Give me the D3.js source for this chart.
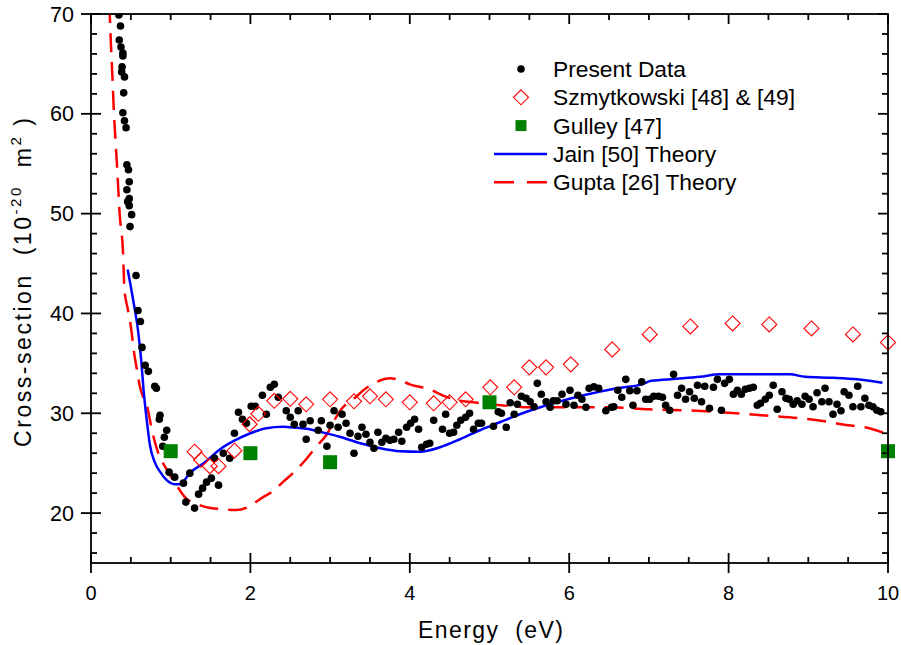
<!DOCTYPE html>
<html>
<head>
<meta charset="utf-8">
<script src="https://cdn.jsdelivr.net/npm/d3@7"></script>
<style>
  body { margin: 0; background: #fff; }
  svg { display: block; font-family: Arial, "Liberation Sans", sans-serif; }
</style>
</head>
<body>
<svg id="chart" width="901" height="645"></svg>
<script>
// [energy eV, cross-section 1e-20 m^2]
const presentData = [
  [0.35,69.9],[0.37,68.8],[0.355,67.4],[0.376,66.7],[0.40,66.1],[0.40,65.8],[0.39,64.7],[0.385,64.2],
  [0.42,63.7],[0.41,62.1],[0.40,60.1],[0.42,59.3],[0.44,58.6],[0.45,54.9],[0.47,54.4],[0.48,53.2],
  [0.45,52.4],[0.48,51.5],[0.46,51.2],[0.48,50.8],[0.51,49.9],[0.49,48.7],[0.565,43.8],[0.59,40.3],
  [0.62,39.2],[0.64,36.6],[0.68,34.8],[0.72,34.2],[0.80,32.7],[0.82,32.5],[0.866,29.8],[0.857,29.4],
  [0.95,28.3],[0.92,27.6],[0.90,26.7],[0.98,24.1],[1.05,23.6],[1.16,23.0],[1.24,24.0],[1.19,21.1],
  [1.30,20.5],[1.35,21.9],[1.40,22.5],[1.45,23.1],[1.51,23.5],[1.60,22.8],[1.55,25.5],[1.66,26.0],
  [1.74,25.5],[1.80,28.0],[1.85,30.1],[1.90,29.4],[1.95,29.0],[2.01,30.7],[2.06,30.7],[2.15,31.8],
  [2.20,29.9],[2.25,32.6],[2.30,32.9],[2.35,31.6],[2.45,30.25],[2.50,29.6],[2.55,28.9],[2.60,30.25],
  [2.66,28.9],[2.70,27.4],[2.75,29.25],[2.85,28.3],[2.89,29.25],[2.96,26.7],[3.00,28.8],[3.05,30.25],
  [3.10,28.6],[3.15,29.9],[3.20,29.0],[3.25,28.0],[3.30,26.0],[3.35,27.7],[3.40,28.6],[3.45,27.9],
  [3.50,27.1],[3.55,26.5],[3.60,28.1],[3.65,27.1],[3.70,27.5],[3.75,27.3],[3.80,27.4],[3.86,28.1],
  [3.90,27.2],[3.96,28.6],[4.01,29.0],[4.06,29.4],[4.11,28.4],[4.15,26.6],[4.21,26.9],[4.25,27.0],
  [4.30,29.3],[4.41,28.4],[4.45,29.9],[4.50,28.0],[4.55,28.1],[4.59,28.8],[4.64,29.3],[4.70,29.6],
  [4.75,30.0],[4.80,28.4],[4.86,29.0],[4.90,29.0],[5.05,28.7],[5.11,30.15],[5.15,30.0],[5.21,28.6],
  [5.26,31.05],[5.31,29.9],[5.35,30.9],[5.40,31.7],[5.46,31.5],[5.51,31.15],[5.56,30.65],[5.60,33.0],
  [5.65,31.9],[5.71,31.15],[5.76,30.6],[5.80,31.25],[5.85,31.25],[5.91,31.9],[5.96,30.9],[6.01,32.3],
  [6.06,30.8],[6.11,31.8],[6.16,31.4],[6.21,30.6],[6.25,32.5],[6.31,32.65],[6.37,32.5],[6.46,30.25],
  [6.53,30.6],[6.56,30.65],[6.61,32.3],[6.66,31.6],[6.71,33.4],[6.76,32.25],[6.80,30.8],[6.85,32.25],
  [6.91,33.15],[6.96,31.4],[7.01,31.4],[7.06,31.7],[7.12,31.7],[7.17,31.6],[7.21,30.8],[7.26,30.3],
  [7.31,33.9],[7.36,31.8],[7.41,32.5],[7.46,31.4],[7.51,32.15],[7.57,31.5],[7.61,32.8],[7.66,31.15],
  [7.70,32.7],[7.76,30.5],[7.81,32.6],[7.86,33.4],[7.91,30.3],[7.95,33.0],[8.01,33.4],[8.06,31.9],
  [8.11,32.3],[8.16,31.9],[8.21,32.4],[8.26,32.5],[8.31,32.6],[8.36,30.8],[8.40,31.0],[8.46,31.4],
  [8.51,31.8],[8.56,32.8],[8.61,30.4],[8.67,32.15],[8.72,31.5],[8.76,31.4],[8.81,30.9],[8.86,31.25],
  [8.92,30.9],[8.96,31.7],[9.01,31.4],[9.06,30.65],[9.11,32.05],[9.17,31.15],[9.21,32.5],[9.26,31.15],
  [9.31,29.9],[9.36,30.9],[9.41,30.25],[9.45,32.15],[9.51,31.8],[9.56,30.65],[9.62,32.7],[9.66,30.65],
  [9.71,31.5],[9.76,30.8],[9.81,30.65],[9.86,30.3],[9.91,30.15]
];

const szmytkowski = [
  [1.30,26.15],[1.38,25.35],[1.49,24.7],[1.60,24.7],[1.80,26.25],[1.99,28.9],[2.10,29.95],[2.30,31.25],
  [2.50,31.45],[2.70,30.9],[3.00,31.4],[3.30,31.2],[3.50,31.7],[3.70,31.4],[4.00,31.1],[4.30,31.0],
  [4.50,31.1],[4.70,31.4],[5.01,32.6],[5.31,32.6],[5.50,34.6],[5.71,34.6],[6.02,34.9],[6.54,36.4],
  [7.01,37.9],[7.52,38.7],[8.05,39.0],[8.51,38.9],[9.04,38.5],[9.56,37.9],[10.0,37.1]
];

const gulley = [[1.0,26.2],[2.0,26.0],[3.0,25.1],[5.0,31.1],[10.0,26.2]];

const jainTheory = [
  [0.46,44.4],[0.53,41.3],[0.59,38.3],[0.63,35.3],[0.66,32.3],[0.70,29.3],[0.74,26.8],[0.80,25.1],
  [0.87,24.1],[0.95,23.3],[1.05,22.9],[1.10,22.9],[1.15,23.1],[1.24,24.0],[1.43,25.1],[1.62,26.4],
  [1.81,27.3],[2.0,28.0],[2.2,28.5],[2.41,28.65],[2.58,28.55],[2.71,28.45],[2.87,28.15],[3.12,27.65],
  [3.38,27.0],[3.63,26.5],[3.88,26.2],[4.13,26.15],[4.38,26.6],[4.63,27.4],[4.88,28.3],[5.13,29.1],
  [5.38,29.9],[5.76,30.9],[6.18,31.8],[6.60,32.5],[6.91,32.9],[7.03,33.25],[7.35,33.45],[7.64,33.65],
  [7.89,33.9],[8.35,33.9],[8.77,33.9],[8.96,33.65],[9.31,33.55],[9.61,33.4],[9.93,33.05]
];

const guptaTheory = [
  [0.23,71],[0.25,67],[0.27,63.5],[0.29,59.7],[0.31,57],[0.33,54.3],[0.36,49.9],[0.40,46.4],
  [0.42,42.4],[0.46,40.5],[0.50,38.7],[0.54,36.1],[0.58,34.2],[0.61,32.8],[0.66,31.5],[0.70,30.8],
  [0.77,28.1],[0.84,26.1],[0.94,24.5],[1.08,22.7],[1.19,21.5],[1.33,20.9],[1.50,20.5],[1.64,20.4],
  [1.82,20.3],[1.97,20.6],[2.14,21.5],[2.30,22.3],[2.42,23.2],[2.56,24.2],[2.71,25.5],[2.83,26.7],
  [2.96,27.9],[3.06,29.4],[3.15,30.5],[3.29,31.4],[3.45,32.5],[3.60,33.2],[3.75,33.5],[3.88,33.3],
  [4.0,32.9],[4.25,32.4],[4.41,31.8],[4.6,31.3],[4.8,31.1],[5.0,30.9],[5.3,30.7],[5.5,30.6],
  [6.0,30.6],[6.5,30.6],[7.0,30.4],[7.6,30.25],[8.0,30.05],[8.5,29.75],[8.9,29.5],[9.2,29.2],
  [9.5,28.8],[9.7,28.6],[10,27.9]
];

const xTicks = [0, 2, 4, 6, 8, 10];
const yTicks = [20, 30, 40, 50, 60, 70];
const legendLabels = ["Present Data", "Szmytkowski [48] & [49]", "Gulley [47]", "Jain [50] Theory", "Gupta [26] Theory"];

const svg = d3.select('#chart');
const margin = {left: 91, right: 13, top: 14, bottom: 82};
const W = 901, H = 645;

const x = d3.scaleLinear().domain([0, 10]).range([margin.left, W - margin.right]);
const y = d3.scaleLinear().domain([15, 70]).range([H - margin.bottom, margin.top]);

svg.append('defs').append('clipPath').attr('id', 'plotClip')
    .append('rect')
    .attr('x', x(0)).attr('y', y(70))
    .attr('width', x(10) - x(0)).attr('height', y(15) - y(70));

const plot = svg.append('g').attr('clip-path', 'url(#plotClip)');

const line = d3.line()
    .x(d => x(d[0]))
    .y(d => y(d[1]))
    .curve(d3.curveMonotoneX);

// theory curves
plot.append('path')
    .attr('d', line(guptaTheory))
    .attr('fill', 'none')
    .attr('stroke', '#ff0000')
    .attr('stroke-width', 2.5)
    .attr('stroke-dasharray', '19,10');

plot.append('path')
    .attr('d', line(jainTheory))
    .attr('fill', 'none')
    .attr('stroke', '#0000ff')
    .attr('stroke-width', 2.5);

// present data dots
plot.selectAll('circle.present')
    .data(presentData)
    .join('circle')
    .attr('class', 'present')
    .attr('cx', d => x(d[0]))
    .attr('cy', d => y(d[1]))
    .attr('r', 3.8)
    .attr('fill', '#000');

// Szmytkowski open diamonds
const diamond = (cx, cy, r) => `M${cx},${cy - r}L${cx + r},${cy}L${cx},${cy + r}L${cx - r},${cy}Z`;
svg.append('g').selectAll('path.szm')
    .data(szmytkowski)
    .join('path')
    .attr('class', 'szm')
    .attr('d', d => diamond(x(d[0]), y(d[1]), 7.5))
    .attr('fill', 'none')
    .attr('stroke', '#ff0000')
    .attr('stroke-width', 1.1);

// Gulley squares
svg.append('g').selectAll('rect.gulley')
    .data(gulley)
    .join('rect')
    .attr('class', 'gulley')
    .attr('x', d => x(d[0]) - 7)
    .attr('y', d => y(d[1]) - 7)
    .attr('width', 14)
    .attr('height', 14)
    .attr('fill', '#008000');

// axes frame and ticks
const axes = svg.append('g').attr('stroke', '#000').attr('stroke-width', 1.8);
axes.append('rect')
    .attr('x', x(0)).attr('y', y(70))
    .attr('width', x(10) - x(0)).attr('height', y(15) - y(70))
    .attr('fill', 'none');

const xMinor = d3.range(0, 10.01, 0.5).filter(v => !xTicks.includes(v));
const yMinor = d3.range(16, 70.01, 2).filter(v => !yTicks.includes(v));
const majL = 10, minL = 6;

xTicks.forEach(v => {
    axes.append('line').attr('x1', x(v)).attr('x2', x(v)).attr('y1', y(15) - majL).attr('y2', y(15) + majL);
    axes.append('line').attr('x1', x(v)).attr('x2', x(v)).attr('y1', y(70)).attr('y2', y(70) + majL);
});
xMinor.forEach(v => {
    axes.append('line').attr('x1', x(v)).attr('x2', x(v)).attr('y1', y(15) - minL).attr('y2', y(15));
    axes.append('line').attr('x1', x(v)).attr('x2', x(v)).attr('y1', y(70)).attr('y2', y(70) + minL);
});
yTicks.forEach(v => {
    axes.append('line').attr('y1', y(v)).attr('y2', y(v)).attr('x1', x(0) - majL).attr('x2', x(0) + majL);
    axes.append('line').attr('y1', y(v)).attr('y2', y(v)).attr('x1', x(10) - majL).attr('x2', x(10));
});
yMinor.forEach(v => {
    axes.append('line').attr('y1', y(v)).attr('y2', y(v)).attr('x1', x(0)).attr('x2', x(0) + minL);
    axes.append('line').attr('y1', y(v)).attr('y2', y(v)).attr('x1', x(10) - minL).attr('x2', x(10));
});

// tick labels
svg.append('g').selectAll('text')
    .data(xTicks)
    .join('text')
    .attr('x', d => x(d))
    .attr('y', y(15) + 37)
    .attr('text-anchor', 'middle')
    .attr('font-size', 20)
    .text(d => d);

svg.append('g').selectAll('text')
    .data(yTicks)
    .join('text')
    .attr('x', x(0) - 17)
    .attr('y', d => y(d) + 7.5)
    .attr('text-anchor', 'end')
    .attr('font-size', 21.5)
    .text(d => d);

// axis titles
svg.append('text')
    .attr('x', 418)
    .attr('y', 638)
    .attr('font-size', 23)
    .attr('xml:space', 'preserve')
    .attr('textLength', 145)
    .attr('lengthAdjust', 'spacing')
    .text('Energy  (eV)');

const yt = svg.append('text')
    .attr('transform', 'translate(31,447) rotate(-90)')
    .attr('font-size', 23)
    .attr('xml:space', 'preserve')
    .attr('textLength', 329)
    .attr('lengthAdjust', 'spacing');
yt.append('tspan').text('Cross-section  (10');
yt.append('tspan').attr('font-size', 15).attr('dy', -10).text('-20');
yt.append('tspan').attr('dy', 10).text('  m');
yt.append('tspan').attr('font-size', 15).attr('dy', -10).text('2');
yt.append('tspan').attr('dy', 10).text(' )');

// legend
const legend = svg.append('g');
const legX = 521, legTextX = 553, legY0 = 69, legDy = 28.3;
legendLabels.forEach((label, i) => {
    const cy = legY0 + i * legDy;
    legend.append('text')
        .attr('x', legTextX)
        .attr('y', cy + 8)
        .attr('font-size', 22.8)
        .text(label);
});
legend.append('circle').attr('cx', legX).attr('cy', legY0).attr('r', 3.8).attr('fill', '#000');
legend.append('path').attr('d', diamond(legX, legY0 + legDy, 7.5))
    .attr('fill', 'none').attr('stroke', '#ff0000').attr('stroke-width', 1.1);
legend.append('rect').attr('x', legX - 5.5).attr('y', legY0 + 2 * legDy - 5.5)
    .attr('width', 11).attr('height', 11).attr('fill', '#008000');
legend.append('line').attr('x1', 494).attr('x2', 547)
    .attr('y1', legY0 + 3 * legDy).attr('y2', legY0 + 3 * legDy)
    .attr('stroke', '#0000ff').attr('stroke-width', 2.5);
legend.append('line').attr('x1', 494).attr('x2', 547)
    .attr('y1', legY0 + 4 * legDy).attr('y2', legY0 + 4 * legDy)
    .attr('stroke', '#ff0000').attr('stroke-width', 2.5)
    .attr('stroke-dasharray', '20,13');
</script>
</body>
</html>
